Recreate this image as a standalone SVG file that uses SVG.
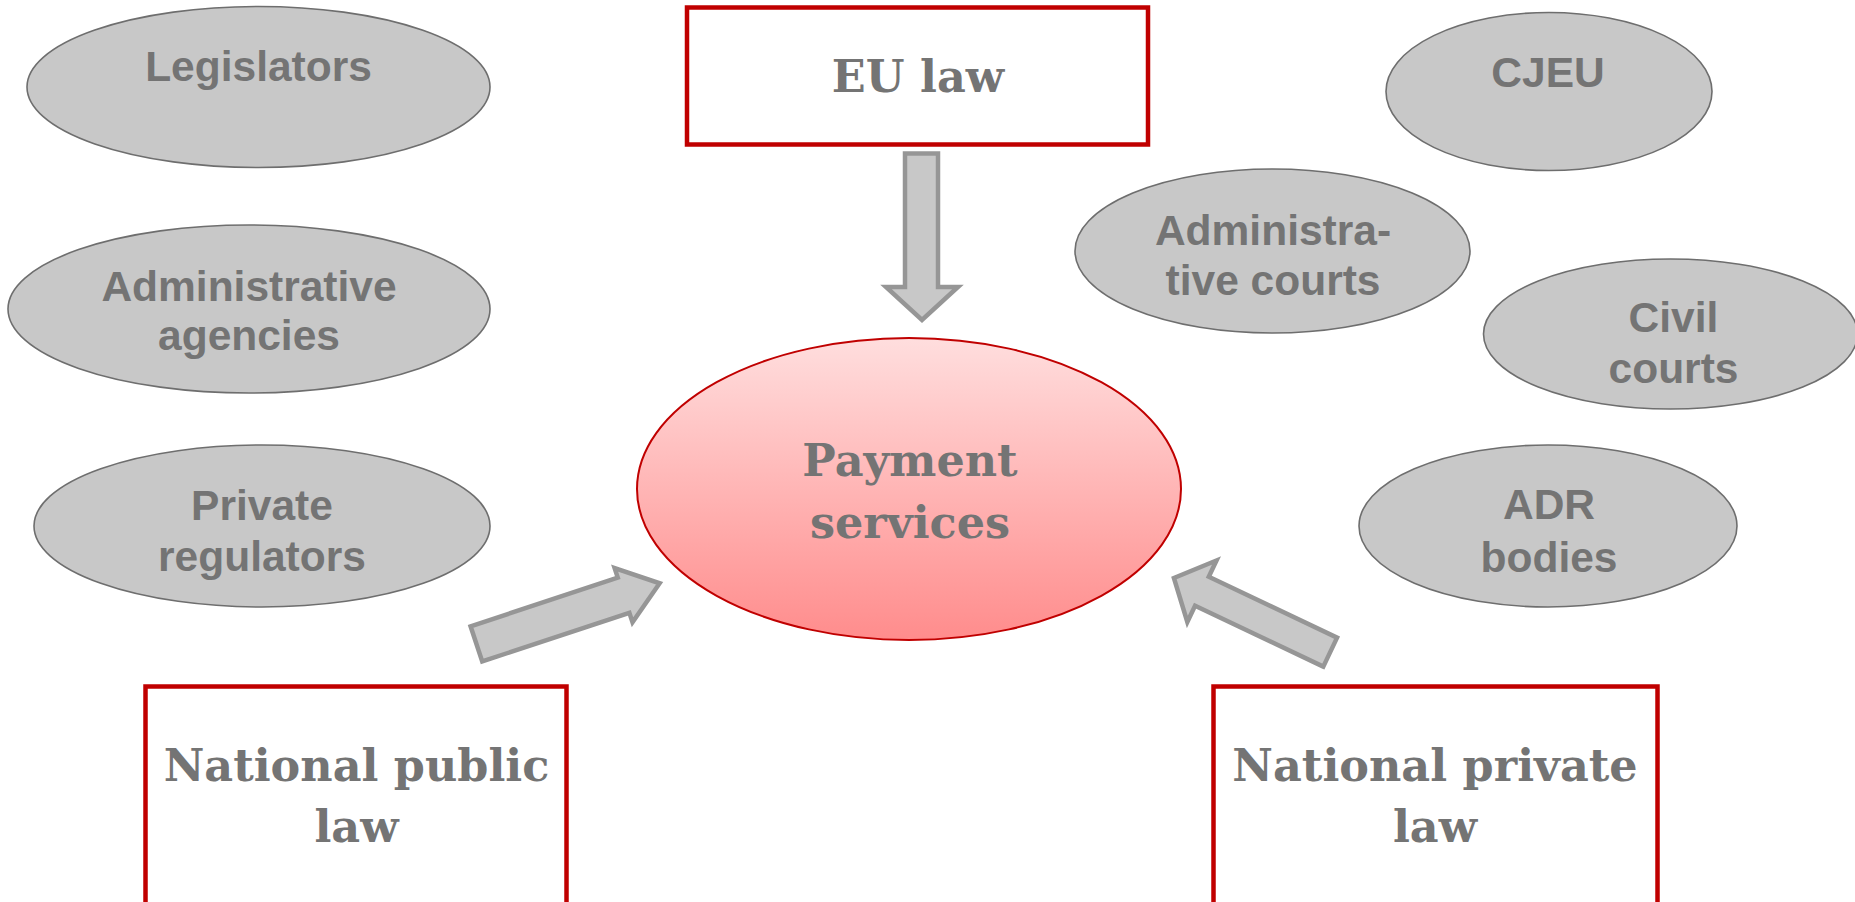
<svg xmlns="http://www.w3.org/2000/svg" width="1855" height="902" viewBox="0 0 1855 902">
  <style>
    .actor { fill: #c8c8c8; stroke: #6e6e6e; stroke-width: 1.6; }
    .law { fill: #ffffff; stroke: #c00000; stroke-width: 4.5; }
    .core { fill: url(#coreFill); stroke: #c00000; stroke-width: 2; }
    .sans { font-family: "Liberation Sans", Arial, sans-serif; font-weight: bold; font-size: 42.5px; fill: #747474; text-anchor: middle; }
    .serif { font-family: "DejaVu Serif", "Liberation Serif", serif; font-weight: bold; font-size: 44.5px; fill: #747474; text-anchor: middle; }
    .flow { fill: #c8c8c8; stroke: #969696; stroke-width: 4.5; stroke-linejoin: miter; }
  </style>
  <defs>
    <linearGradient id="coreFill" x1="0" y1="0" x2="0" y2="1">
      <stop offset="0" stop-color="#ffdede"/>
      <stop offset="1" stop-color="#ff8c8c"/>
    </linearGradient>
  </defs>
  <rect width="1855" height="902" fill="#ffffff"/>

  <!-- block arrows feeding the central node -->
  <g id="connectors">
    <polygon class="flow" points="905,153.5 938,153.5 938,287 958,287 922,320 886,287 905,287"/>
    <polygon class="flow" transform="translate(474.5,644.5) rotate(-18.3)" points="2,-18.5 157,-18.5 157,-28.5 195,0 157,28.5 157,18.5 2,18.5"/>
    <polygon class="flow" transform="translate(1332,653) rotate(205.4)" points="2,-16 144,-16 144,-34 175,0 144,34 144,16 2,16"/>
  </g>

  <!-- sources of law -->
  <g id="eu-law">
    <rect class="law" x="687" y="7.5" width="461" height="137"/>
    <text class="serif" x="918" y="92">EU law</text>
  </g>
  <g id="national-public-law">
    <rect class="law" x="145.5" y="686.5" width="421" height="260"/>
    <text class="serif" x="356.5" y="780.5">National public</text>
    <text class="serif" x="356.5" y="841.5">law</text>
  </g>
  <g id="national-private-law">
    <rect class="law" x="1213.5" y="686.5" width="444" height="260"/>
    <text class="serif" x="1435" y="780.5">National private</text>
    <text class="serif" x="1435" y="841.5">law</text>
  </g>

  <!-- central subject -->
  <g id="payment-services">
    <ellipse class="core" cx="909" cy="489" rx="272" ry="151"/>
    <text class="serif" x="910" y="475.5">Payment</text>
    <text class="serif" x="910" y="537.5">services</text>
  </g>

  <!-- rule-makers -->
  <g id="legislators">
    <ellipse class="actor" cx="258.5" cy="87" rx="231.5" ry="80.5"/>
    <text class="sans" x="258.5" y="81">Legislators</text>
  </g>
  <g id="administrative-agencies">
    <ellipse class="actor" cx="249" cy="309" rx="241" ry="84"/>
    <text class="sans" x="249" y="300.5">Administrative</text>
    <text class="sans" x="249" y="350">agencies</text>
  </g>
  <g id="private-regulators">
    <ellipse class="actor" cx="262" cy="526" rx="228" ry="81"/>
    <text class="sans" x="262" y="520">Private</text>
    <text class="sans" x="262" y="571">regulators</text>
  </g>

  <!-- dispute resolution bodies -->
  <g id="cjeu">
    <ellipse class="actor" cx="1549" cy="91.5" rx="163" ry="79"/>
    <text class="sans" x="1548" y="87">CJEU</text>
  </g>
  <g id="administrative-courts">
    <ellipse class="actor" cx="1272.5" cy="251" rx="197.5" ry="82"/>
    <text class="sans" x="1273" y="244.5">Administra-</text>
    <text class="sans" x="1273" y="294.5">tive courts</text>
  </g>
  <g id="civil-courts">
    <ellipse class="actor" cx="1670.5" cy="334" rx="187" ry="75"/>
    <text class="sans" x="1673.5" y="332">Civil</text>
    <text class="sans" x="1673.5" y="382.5">courts</text>
  </g>
  <g id="adr-bodies">
    <ellipse class="actor" cx="1548" cy="526" rx="189" ry="81"/>
    <text class="sans" x="1549" y="519">ADR</text>
    <text class="sans" x="1549" y="571.5">bodies</text>
  </g>
</svg>
